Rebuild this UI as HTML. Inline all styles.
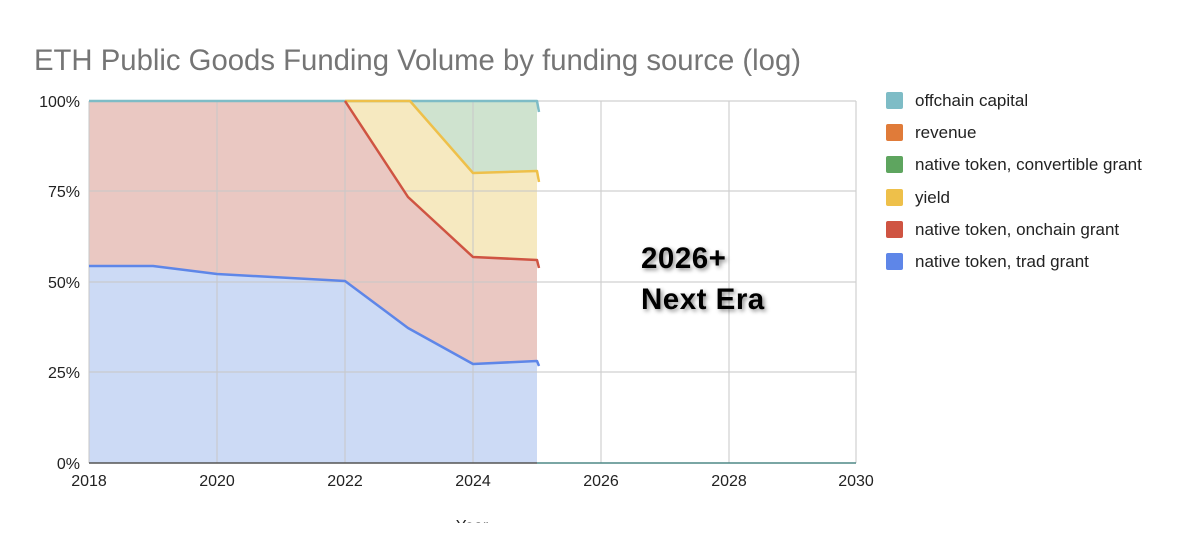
<!DOCTYPE html>
<html><head><style>
body{margin:0;background:#fff;}
svg text{font-family:"Liberation Sans",Arial,sans-serif;}
</style></head><body>
<svg width="1178" height="542" viewBox="0 0 1178 542" xmlns="http://www.w3.org/2000/svg">
<rect width="1178" height="542" fill="#fff"/>
<text x="34" y="70" font-size="29.3" fill="#757575">ETH Public Goods Funding Volume by funding source (log)</text>
<polygon points="89,101 537,101 537,463 89,463" fill="#cfe3cf"/>
<polygon points="89,101 410,101 473,173 537,171 537,463 89,463" fill="#f6e9c0"/>
<polygon points="89,101 345,101 408,197 473,257 537,260 537,463 89,463" fill="#eac8c2"/>
<polygon points="89,266 153,266 217,274 345,281 408,328 473,364 537,361 537,463 89,463" fill="#ccdaf5"/>
<g stroke="#c8c8c8" stroke-width="1.2" opacity="0.85">
<line x1="89" y1="101" x2="856" y2="101"/>
<line x1="89" y1="191" x2="856" y2="191"/>
<line x1="89" y1="282" x2="856" y2="282"/>
<line x1="89" y1="372" x2="856" y2="372"/>
<line x1="89" y1="101" x2="89" y2="463"/>
<line x1="217" y1="101" x2="217" y2="463"/>
<line x1="345" y1="101" x2="345" y2="463"/>
<line x1="473" y1="101" x2="473" y2="463"/>
<line x1="601" y1="101" x2="601" y2="463"/>
<line x1="729" y1="101" x2="729" y2="463"/>
<line x1="856" y1="101" x2="856" y2="463"/>
</g>
<g fill="none" stroke-width="2.5" stroke-linejoin="round">
<polyline points="89,101 537,101 539,112" stroke="#7ebcc6"/>
<polyline points="345,101 410,101 473,173 537,171 539,182" stroke="#eec04a"/>
<polyline points="345,101 408,197 473,257 537,260 539,268" stroke="#cf5442"/>
<polyline points="89,266 153,266 217,274 345,281 408,328 473,364 537,361 539,366" stroke="#5e86e8"/>
</g>
<line x1="89" y1="463" x2="856" y2="463" stroke="#555" stroke-width="1.5"/>
<line x1="537" y1="463" x2="856" y2="463" stroke="#4aa3a0" stroke-width="1"/>
<g font-size="16" fill="#222" text-anchor="end">
<text x="80" y="107">100%</text>
<text x="80" y="197">75%</text>
<text x="80" y="288">50%</text>
<text x="80" y="378">25%</text>
<text x="80" y="469">0%</text>
</g>
<g font-size="16" fill="#222" text-anchor="middle">
<text x="89" y="486">2018</text>
<text x="217" y="486">2020</text>
<text x="345" y="486">2022</text>
<text x="473" y="486">2024</text>
<text x="601" y="486">2026</text>
<text x="729" y="486">2028</text>
<text x="856" y="486">2030</text>
<text x="472" y="531">Year</text>
</g>
<rect x="0" y="523" width="1178" height="19" fill="#fff"/>
<g font-size="29.5" font-weight="bold" fill="#000" letter-spacing="0.5" style="filter:drop-shadow(2px 2px 2px rgba(0,0,0,0.45))">
<text x="641" y="268">2026+</text>
<text x="641" y="309">Next Era</text>
</g>
<g font-size="17" fill="#222">
<rect x="886" y="92" width="17" height="17" rx="2" fill="#7ebcc6"/><text x="915" y="106">offchain capital</text>
<rect x="886" y="124" width="17" height="17" rx="2" fill="#e07b39"/><text x="915" y="138">revenue</text>
<rect x="886" y="156" width="17" height="17" rx="2" fill="#5ea55f"/><text x="915" y="170">native token, convertible grant</text>
<rect x="886" y="189" width="17" height="17" rx="2" fill="#eec04a"/><text x="915" y="203">yield</text>
<rect x="886" y="221" width="17" height="17" rx="2" fill="#cf5442"/><text x="915" y="235">native token, onchain grant</text>
<rect x="886" y="253" width="17" height="17" rx="2" fill="#5e86e8"/><text x="915" y="267">native token, trad grant</text>
</g>
</svg>
</body></html>
